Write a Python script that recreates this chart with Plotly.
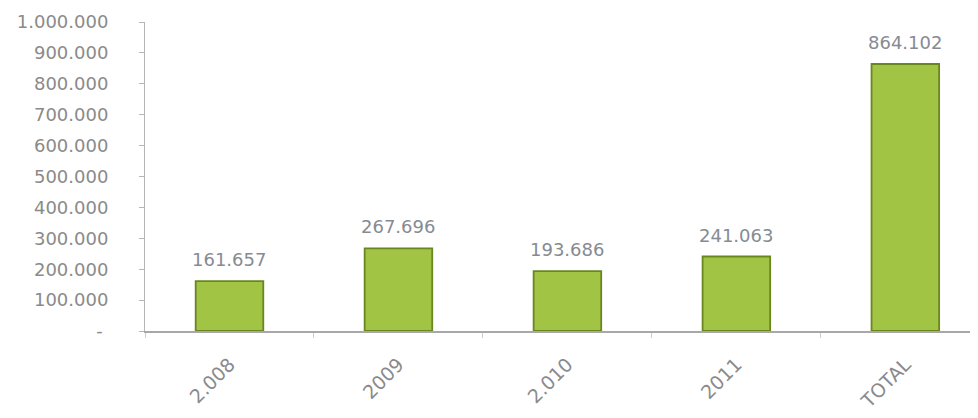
import plotly.graph_objects as go

categories = ["2.008", "2009", "2.010", "2011", "TOTAL"]
values = [161657, 267696, 193686, 241063, 864102]
y_tick_values = [0, 100000, 200000, 300000, 400000, 500000, 600000, 700000, 800000, 900000, 1000000]
y_tick_labels = ["-\u00a0", "100.000", "200.000", "300.000", "400.000", "500.000",
                 "600.000", "700.000", "800.000", "900.000", "1.000.000"]

FONT = "DejaVu Sans, Verdana, sans-serif"

fig = go.Figure()
fig.add_trace(go.Bar(
    x=categories,
    y=values,
    width=0.4,
    marker=dict(color="#a2c444", line=dict(color="#6a8620", width=1.8)),
    hoverinfo="x+y",
))

for i, v in enumerate(values):
    fig.add_annotation(
        x=i, y=v, text=f"{v:,}".replace(",", "."),
        xref="x", yref="y",
        showarrow=False, yanchor="bottom", yshift=9,
        font=dict(family=FONT, size=18, color="#868b92"),
    )

fig.update_layout(
    width=970, height=410,
    margin=dict(l=137, r=0, t=14, b=87),
    paper_bgcolor="white", plot_bgcolor="white",
    showlegend=False,
    font=dict(family=FONT, color="#8a8a8a"),
)
fig.update_xaxes(
    type="category",
    range=[-0.5, 4.43],
    tickangle=-45,
    tickfont=dict(family=FONT, size=19, color="#8a8a8a"),
    showline=True, linecolor="#a8a8a8", linewidth=2,
    ticks="outside", tickson="boundaries", ticklen=5, tickcolor="#cccccc",
    showgrid=False,
    ticklabelstandoff=13,
)
fig.update_yaxes(
    range=[0, 1000000],
    tickvals=y_tick_values, ticktext=y_tick_labels,
    tickfont=dict(family=FONT, size=18, color="#8a8a8a"),
    showline=True, linecolor="#b5b5b5", linewidth=1,
    ticks="outside", ticklen=5, tickcolor="#b5b5b5",
    showgrid=False, zeroline=False,
    ticklabelstandoff=27,
)

fig.write_html("out.html")
